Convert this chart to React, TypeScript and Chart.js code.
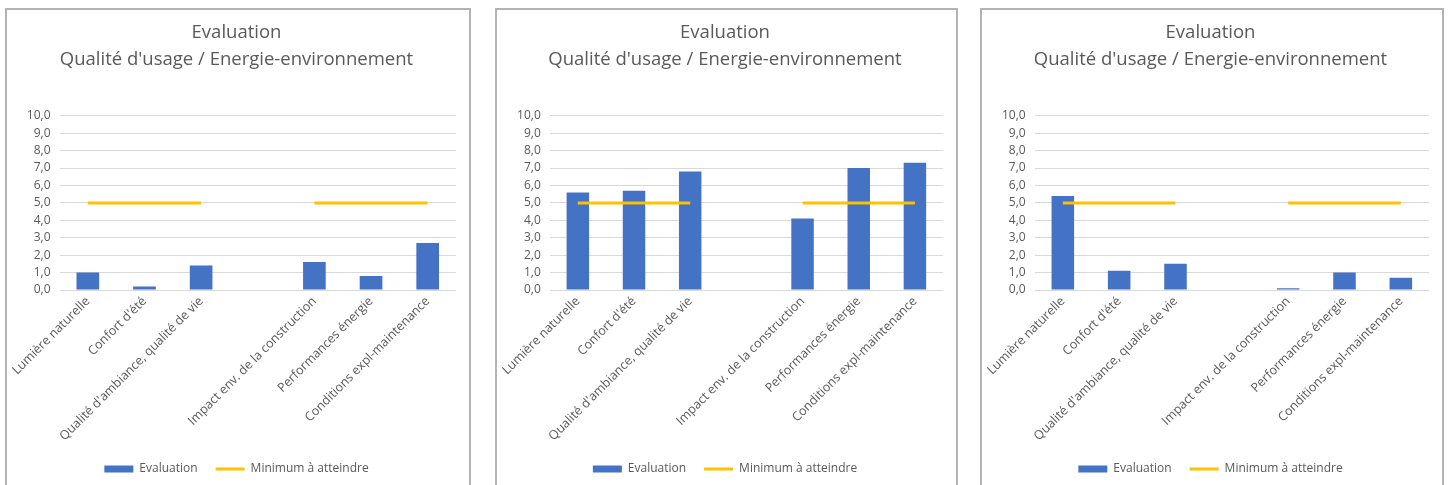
import React, { useEffect, useRef } from "react";
import { Chart, registerables } from "chart.js";

Chart.register(...registerables);

const categories = [
  "Lumière naturelle",
  "Confort d'été",
  "Qualité d'ambiance, qualité de vie",
  "",
  "Impact env. de la construction",
  "Performances énergie",
  "Conditions expl-maintenance",
];

const evaluationP1 = [1.0, 0.2, 1.4, null, 1.6, 0.8, 2.7];
const evaluationP2 = [5.6, 5.7, 6.8, null, 4.1, 7.0, 7.3];
const evaluationP3 = [5.4, 1.1, 1.5, null, 0.1, 1.0, 0.7];
const minimumValues = [5, 5, 5, null, 5, 5, 5];

const titleLines = ["Evaluation", "Qualité d'usage / Energie-environnement"];
const seriesNames = ["Evaluation", "Minimum à atteindre"];

const FONT = "'Open Sans', 'DejaVu Sans', sans-serif";
const TEXT = "#595959";

function Panel({ values, left, width }: { values: (number | null)[]; left: number; width: number }) {
  const ref = useRef<HTMLCanvasElement | null>(null);
  useEffect(() => {
    if (!ref.current) return;
    const chart = new Chart(ref.current, {
      type: "bar",
      data: {
        labels: categories,
        datasets: [
          {
            type: "bar",
            label: seriesNames[0],
            data: values,
            backgroundColor: "#4472C4",
            borderWidth: 0,
            barPercentage: 0.4,
            categoryPercentage: 1.0,
            order: 1,
            pointStyle: "rect",
          } as any,
          {
            type: "line",
            label: seriesNames[1],
            data: minimumValues,
            borderColor: "#FFC000",
            backgroundColor: "#FFC000",
            borderWidth: 3,
            pointRadius: 0,
            spanGaps: false,
            order: 0,
            pointStyle: "line",
          } as any,
        ],
      },
      options: {
        animation: false,
        responsive: false,
        maintainAspectRatio: false,
        layout: { padding: { left: 10, right: 13, top: 0, bottom: 0 } },
        plugins: {
          title: {
            display: true,
            text: titleLines,
            color: TEXT,
            font: { family: FONT, size: 18.5, weight: "normal", lineHeight: 1.45 },
            padding: { top: 9.6, bottom: 42.5 },
          },
          legend: {
            display: true,
            position: "bottom",
            labels: {
              usePointStyle: true,
              pointStyleWidth: 29,
              boxHeight: 7,
              color: TEXT,
              padding: 18,
              font: { family: FONT, size: 12 },
              sort: (a: any, b: any) => a.datasetIndex - b.datasetIndex,
            },
          },
          tooltip: { enabled: false },
        },
        scales: {
          x: {
            grid: { display: false, drawTicks: false },
            border: { display: false },
            ticks: {
              color: TEXT,
              font: { family: FONT, size: 12.5 },
              minRotation: 45,
              maxRotation: 45,
              padding: 4,
              autoSkip: false,
            },
            afterFit: (scale: any) => {
              scale.height = 155;
            },
          },
          y: {
            min: 0,
            max: 10,
            grid: { color: "#d9d9d9", lineWidth: 1, drawTicks: false },
            border: { display: false },
            ticks: {
              stepSize: 1,
              color: TEXT,
              padding: 9,
              font: { family: FONT, size: 12 },
              callback: (v: any) => Number(v).toFixed(1).replace(".", ","),
            },
            afterFit: (scale: any) => {
              scale.width = 41;
            },
          },
        },
      } as any,
    });
    return () => chart.destroy();
  }, [values]);
  return (
    <div
      style={{
        position: "absolute",
        left,
        top: 8,
        width,
        height: 495,
        border: "2px solid #b3b3b3",
        boxSizing: "border-box",
        background: "#fff",
      }}
    >
      <canvas ref={ref} width={width - 4} height={475} style={{ display: "block" }} />
    </div>
  );
}

export default function App() {
  return (
    <div
      style={{
        position: "fixed",
        left: 0,
        top: 0,
        width: 1448,
        height: 485,
        overflow: "hidden",
        background: "#fff",
      }}
    >
      <Panel values={evaluationP1} left={5} width={466} />
      <Panel values={evaluationP2} left={495} width={463} />
      <Panel values={evaluationP3} left={980} width={464} />
    </div>
  );
}
